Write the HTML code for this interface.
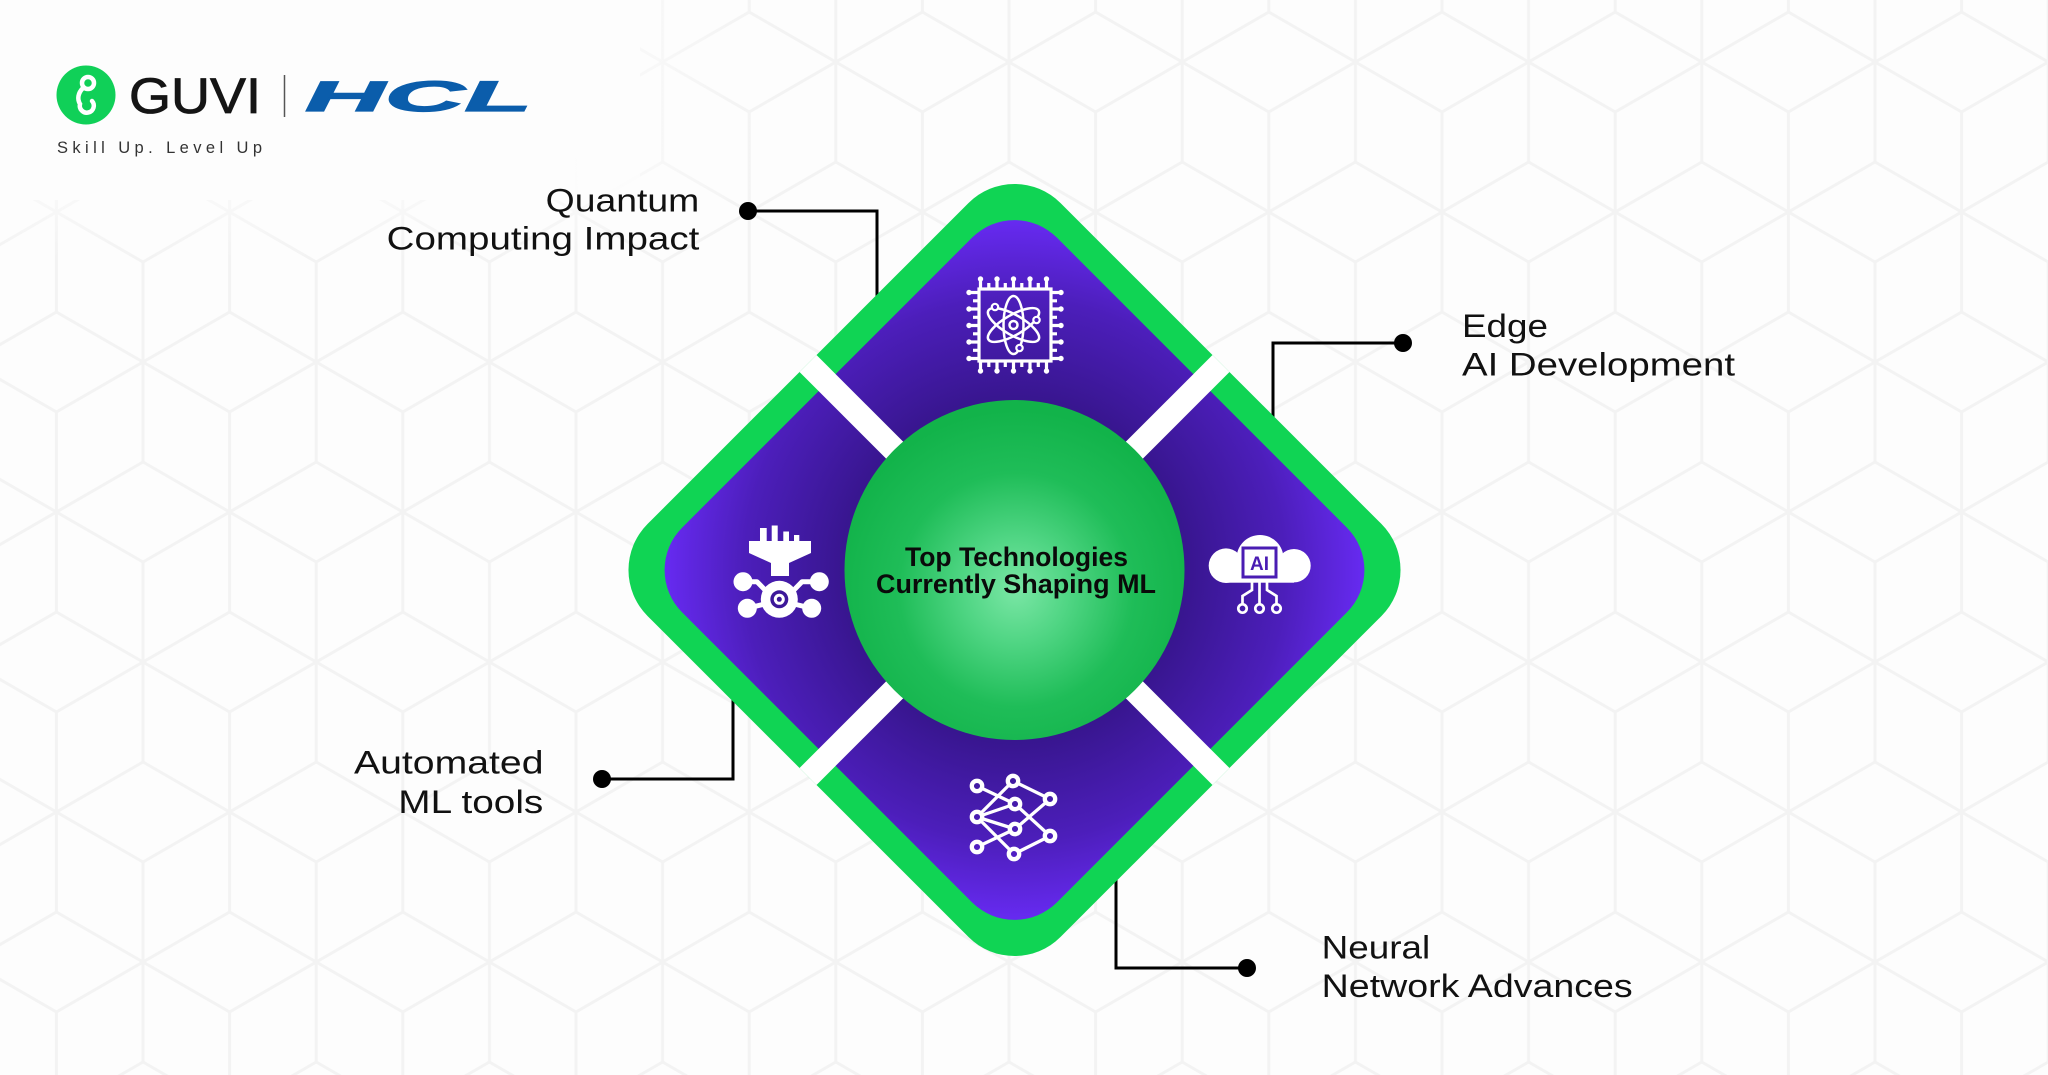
<!DOCTYPE html>
<html>
<head>
<meta charset="utf-8">
<style>
html,body{margin:0;padding:0;background:#fdfdfd;}
svg{display:block;}
text{font-family:"Liberation Sans",Arial,sans-serif;}
</style>
</head>
<body>
<svg width="2048" height="1075" viewBox="0 0 2048 1075" xmlns="http://www.w3.org/2000/svg">
<defs>
  <pattern id="hex" patternUnits="userSpaceOnUse" x="56.4" y="212" width="173.2" height="300">
    <g stroke="#f3f3f3" stroke-width="3" fill="none" stroke-linecap="round">
      <path d="M86.6 50 V250 M0 100 L173.2 200 M0 200 L173.2 100"/>
      <path d="M0 -100 V100 M-86.6 -50 L86.6 50 M-86.6 50 L86.6 -50"/>
      <path d="M173.2 -100 V100 M86.6 -50 L259.8 50 M86.6 50 L259.8 -50"/>
      <path d="M0 200 V400 M-86.6 250 L86.6 350 M-86.6 350 L86.6 250"/>
      <path d="M173.2 200 V400 M86.6 250 L259.8 350 M86.6 350 L259.8 250"/>
    </g>
  </pattern>
  <linearGradient id="fade" x1="0" y1="0" x2="0" y2="1">
    <stop offset="0" stop-color="#fdfdfd" stop-opacity="1"/>
    <stop offset="0.55" stop-color="#fdfdfd" stop-opacity="1"/>
    <stop offset="1" stop-color="#fdfdfd" stop-opacity="0"/>
  </linearGradient>
  <linearGradient id="fadeX" x1="0" y1="0" x2="1" y2="0">
    <stop offset="0" stop-color="#fdfdfd" stop-opacity="1"/>
    <stop offset="0.7" stop-color="#fdfdfd" stop-opacity="1"/>
    <stop offset="1" stop-color="#fdfdfd" stop-opacity="0"/>
  </linearGradient>
  <mask id="fm">
    <rect x="0" y="0" width="2048" height="1075" fill="#fff"/>
  </mask>
  <radialGradient id="pg" gradientUnits="userSpaceOnUse" cx="0" cy="0" r="360">
    <stop offset="0.45" stop-color="#36158b"/>
    <stop offset="0.75" stop-color="#4c1eba"/>
    <stop offset="1" stop-color="#6a2cf8"/>
  </radialGradient>
  <radialGradient id="pg2" gradientUnits="userSpaceOnUse" cx="1014.5" cy="570" r="360">
    <stop offset="0.45" stop-color="#36158b"/>
    <stop offset="0.75" stop-color="#4c1eba"/>
    <stop offset="1" stop-color="#6a2cf8"/>
  </radialGradient>
  <radialGradient id="cg" gradientUnits="userSpaceOnUse" cx="1016" cy="590" r="180">
    <stop offset="0" stop-color="#7ae6a5"/>
    <stop offset="0.3" stop-color="#4fd583"/>
    <stop offset="0.65" stop-color="#1fbd58"/>
    <stop offset="1" stop-color="#12b34a"/>
  </radialGradient>
</defs>

<!-- background -->
<rect x="0" y="0" width="2048" height="1075" fill="#fdfdfd"/>
<rect x="0" y="0" width="2048" height="1075" fill="url(#hex)"/>
<rect x="0" y="0" width="640" height="260" fill="url(#fade)"/>
<rect x="0" y="0" width="760" height="200" fill="url(#fadeX)"/>

<!-- Logo -->
<circle cx="86" cy="95" r="29.5" fill="#10d058"/>
<g stroke="#fff" stroke-width="4.5" fill="none" stroke-linecap="round">
  <circle cx="88" cy="83" r="6"/>
  <path d="M83 88 C78 93 77 99 80 104 A7 7 0 1 0 92 101"/>
</g>
<text x="129" y="113" font-size="50" fill="#151515" stroke="#151515" stroke-width="0.8" textLength="132" lengthAdjust="spacingAndGlyphs">GUVI</text>
<line x1="284.5" y1="75" x2="284.5" y2="117" stroke="#555" stroke-width="1.5"/>
<text x="305" y="111" font-size="43" font-weight="bold" font-style="italic" fill="#0b5dab" stroke="#0b5dab" stroke-width="1.2" textLength="227" lengthAdjust="spacingAndGlyphs">HCL</text>
<text x="57" y="153" font-size="16.5" fill="#333" textLength="205" lengthAdjust="spacing">Skill Up. Level Up</text>

<!-- connectors -->
<g stroke="#000" stroke-width="3" fill="none">
  <polyline points="748,211 877,211 877,330"/>
  <polyline points="1403,343 1273,343 1273,440"/>
  <polyline points="602,779 733,779 733,680"/>
  <polyline points="1247,968 1116,968 1116,860"/>
</g>
<g fill="#000">
  <circle cx="748" cy="211" r="9"/>
  <circle cx="1403" cy="343" r="9"/>
  <circle cx="602" cy="779" r="9"/>
  <circle cx="1247" cy="968" r="9"/>
</g>

<!-- labels -->
<g font-size="32" fill="#111">
  <text x="545.7" y="211.5" textLength="153.6" lengthAdjust="spacingAndGlyphs">Quantum</text>
  <text x="386.7" y="249.5" textLength="312.6" lengthAdjust="spacingAndGlyphs">Computing Impact</text>
  <text x="1462" y="337" textLength="86" lengthAdjust="spacingAndGlyphs">Edge</text>
  <text x="1462" y="375.5" textLength="273" lengthAdjust="spacingAndGlyphs">AI Development</text>
  <text x="354" y="773.5" textLength="189.5" lengthAdjust="spacingAndGlyphs">Automated</text>
  <text x="398.3" y="813" textLength="145" lengthAdjust="spacingAndGlyphs">ML tools</text>
  <text x="1321.7" y="958.5" textLength="108.5" lengthAdjust="spacingAndGlyphs">Neural</text>
  <text x="1321.7" y="997" textLength="311" lengthAdjust="spacingAndGlyphs">Network Advances</text>
</g>

<!-- diamond -->
<g transform="translate(1014.5,570) rotate(45)">
  <rect x="-292" y="-292" width="584" height="584" rx="65" ry="65" fill="#10d454"/>
  <rect x="-265" y="-265" width="530" height="530" rx="60" ry="60" fill="url(#pg)"/>
  <rect x="-12" y="-292" width="24" height="584" fill="#ffffff"/>
  <rect x="-292" y="-12" width="584" height="24" fill="#ffffff"/>
</g>

<!-- center circle -->
<circle cx="1014.5" cy="570" r="170" fill="url(#cg)"/>
<g font-size="27" font-weight="bold" fill="#0a0a0a" text-anchor="middle">
  <text x="1016.5" y="566" textLength="223" lengthAdjust="spacingAndGlyphs">Top Technologies</text>
  <text x="1016" y="593" textLength="280" lengthAdjust="spacingAndGlyphs">Currently Shaping ML</text>
</g>

<!-- Chip / quantum icon -->
<g stroke="#fff" fill="none" stroke-width="3.2">
  <rect x="979" y="289" width="72" height="72"/>
  <path d="M980.5 281V289 M988.8 283V289 M997 281V289 M1005.3 283V289 M1013.5 281V289 M1021.8 283V289 M1030 281V289 M1038.3 283V289 M1046.5 281V289"/>
  <path d="M980.5 361V369 M988.8 361V367 M997 361V369 M1005.3 361V367 M1013.5 361V369 M1021.8 361V367 M1030 361V369 M1038.3 361V367 M1046.5 361V369"/>
  <path d="M971 292.5H979 M973 300.8H979 M971 309H979 M973 317.3H979 M971 325.5H979 M973 333.8H979 M971 342H979 M973 350.3H979 M971 358.5H979"/>
  <path d="M1051 292.5H1059 M1051 300.8H1057 M1051 309H1059 M1051 317.3H1057 M1051 325.5H1059 M1051 333.8H1057 M1051 342H1059 M1051 350.3H1057 M1051 358.5H1059"/>
</g>
<g fill="#fff">
  <circle cx="980.5" cy="279" r="2.7"/><circle cx="997" cy="279" r="2.7"/><circle cx="1013.5" cy="279" r="2.7"/><circle cx="1030" cy="279" r="2.7"/><circle cx="1046.5" cy="279" r="2.7"/>
  <circle cx="980.5" cy="371" r="2.7"/><circle cx="997" cy="371" r="2.7"/><circle cx="1013.5" cy="371" r="2.7"/><circle cx="1030" cy="371" r="2.7"/><circle cx="1046.5" cy="371" r="2.7"/>
  <circle cx="969" cy="292.5" r="2.7"/><circle cx="969" cy="309" r="2.7"/><circle cx="969" cy="325.5" r="2.7"/><circle cx="969" cy="342" r="2.7"/><circle cx="969" cy="358.5" r="2.7"/>
  <circle cx="1061" cy="292.5" r="2.7"/><circle cx="1061" cy="309" r="2.7"/><circle cx="1061" cy="325.5" r="2.7"/><circle cx="1061" cy="342" r="2.7"/><circle cx="1061" cy="358.5" r="2.7"/>
</g>
<g stroke="#fff" fill="none" stroke-width="2.5">
  <ellipse cx="1013.5" cy="325" rx="29" ry="10" transform="rotate(90 1013.5 325)"/>
  <ellipse cx="1013.5" cy="325" rx="29" ry="10" transform="rotate(30 1013.5 325)"/>
  <ellipse cx="1013.5" cy="325" rx="29" ry="10" transform="rotate(-30 1013.5 325)"/>
  <circle cx="1013.5" cy="325" r="4"/>
</g>
<g stroke="#fff" fill="#4d1fbf" stroke-width="2.2">
  <circle cx="995" cy="307" r="3.2"/>
  <circle cx="1036.5" cy="320" r="3.2"/>
  <circle cx="1019.5" cy="348" r="3.2"/>
</g>

<!-- Automated ML icon -->
<g fill="#fff">
  <rect x="760" y="528" width="6.7" height="14"/>
  <rect x="771.7" y="525.5" width="6" height="16.5"/>
  <rect x="783.3" y="531.5" width="5.7" height="10.5"/>
  <rect x="794" y="535" width="5.3" height="7"/>
  <polygon points="749,541 811,541 811,553 789,563 789,576 771,576 771,563 749,553"/>
  <circle cx="779.3" cy="599.3" r="18.5"/>
  <circle cx="743" cy="581.7" r="9.5"/>
  <circle cx="819.3" cy="581.7" r="9.5"/>
  <circle cx="747.3" cy="608.3" r="9.5"/>
  <circle cx="811.7" cy="608.3" r="9.5"/>
</g>
<g stroke="#fff" stroke-width="5" fill="none" stroke-linejoin="round">
  <polyline points="743,581.7 757,581.7 766,591"/>
  <polyline points="819.3,581.7 802,581.7 793,591"/>
  <polyline points="747.3,608.3 765,604"/>
  <polyline points="811.7,608.3 794,604"/>
</g>
<circle cx="779.3" cy="599.3" r="9" fill="#3d1899"/>
<circle cx="779.3" cy="599.3" r="5.5" fill="#fff"/>
<circle cx="779.3" cy="599.3" r="2.5" fill="#3d1899"/>

<!-- Cloud AI icon -->
<g fill="#fff">
  <circle cx="1226" cy="565.7" r="17.3"/>
  <circle cx="1294" cy="565.7" r="16.7"/>
  <circle cx="1260" cy="558.5" r="23.5"/>
  <rect x="1226" y="560" width="68" height="22.7"/>
</g>
<rect x="1243" y="548" width="33" height="29" fill="#fff" stroke="#4a1cb3" stroke-width="3"/>
<text x="1259.5" y="570" font-size="19" font-weight="bold" fill="#4a1cb3" text-anchor="middle">AI</text>
<g stroke="#fff" stroke-width="2.7" fill="none">
  <path d="M1259.5 582 V603.5"/>
  <path d="M1252 582 V590 L1242.5 596 V603.5"/>
  <path d="M1267 582 V590 L1276.5 596 V603.5"/>
  <circle cx="1242.5" cy="608.5" r="4.2"/>
  <circle cx="1259.5" cy="608.5" r="4.2"/>
  <circle cx="1276.5" cy="608.5" r="4.2"/>
</g>

<!-- Neural network icon -->
<g stroke="#fff" stroke-width="3.3" fill="none">
  <path d="M977 786 L1015 804 M977 817 L1013 781 M977 817 L1015 804 M977 817 L1015 829 M977 817 L1014 854 M977 847 L1015 829 M1013 781 L1050 799 M1015 804 L1050 836 M1015 829 L1050 799 M1014 854 L1050 836"/>
</g>
<g stroke="#fff" stroke-width="4.3" fill="url(#pg2)">
  <circle cx="977" cy="786" r="5.2"/>
  <circle cx="977" cy="817" r="5.2"/>
  <circle cx="977" cy="847" r="5.2"/>
  <circle cx="1013" cy="781" r="5.2"/>
  <circle cx="1015" cy="804" r="5.2"/>
  <circle cx="1015" cy="829" r="5.2"/>
  <circle cx="1014" cy="854" r="5.2"/>
  <circle cx="1050" cy="799" r="5.2"/>
  <circle cx="1050" cy="836" r="5.2"/>
</g>
</svg>
</body>
</html>
